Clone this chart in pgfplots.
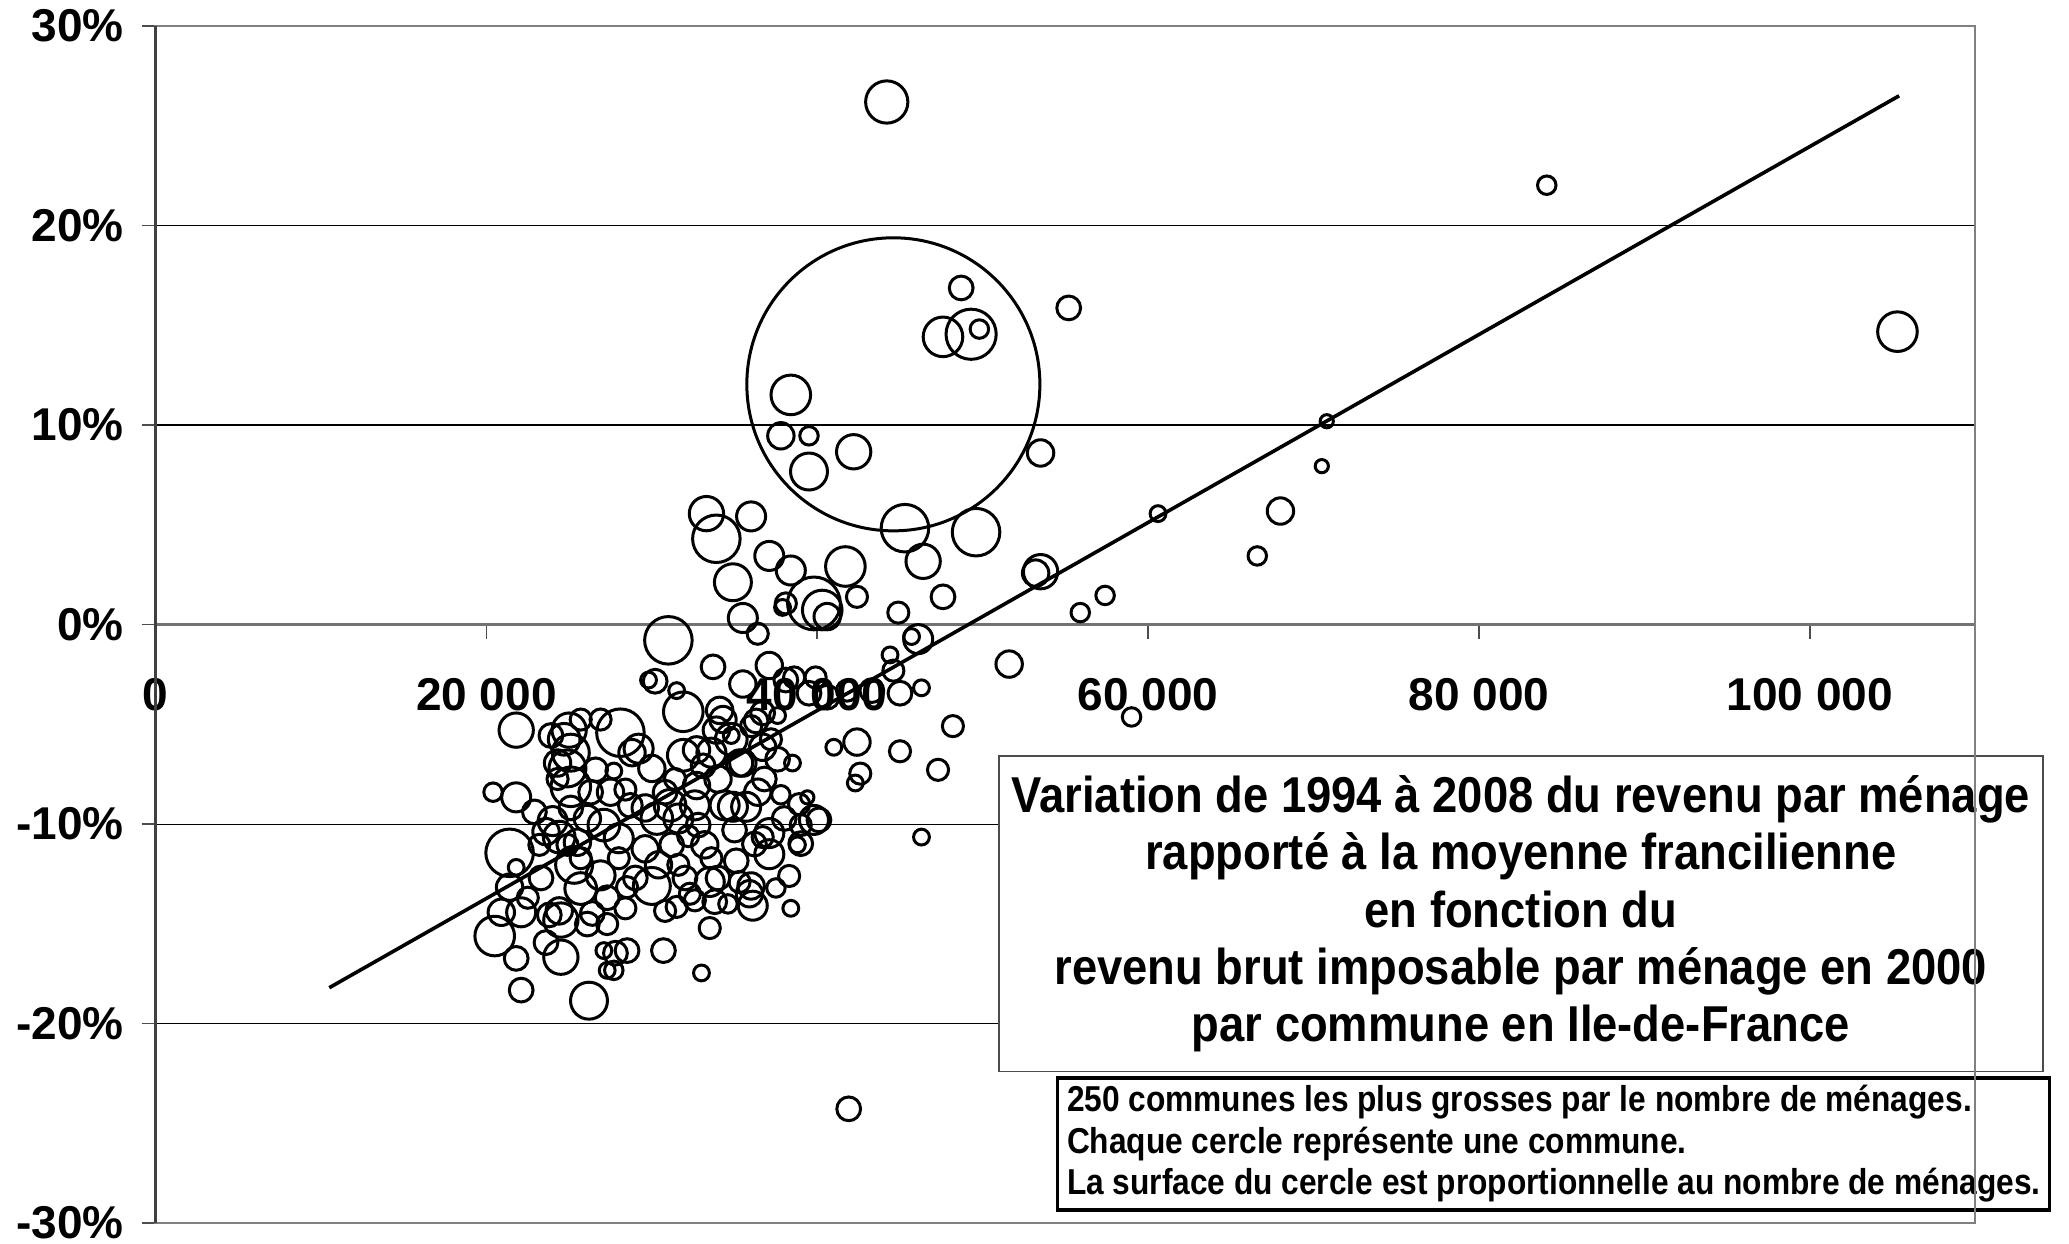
\documentclass[border=0pt]{standalone}
\usepackage{pgfplots}
\pgfplotsset{compat=1.18}
\usepackage{pgfplotstable}
\usepackage{fontspec}
\setmainfont{Liberation Sans}
\setsansfont{Liberation Sans}
\newfontfamily\narrowA[FakeStretch=0.9]{Liberation Sans}
\newfontfamily\narrowB[FakeStretch=0.88]{Liberation Sans}

\pgfplotstableread{
x y r
44200 26.19 16
84100 22.02 7
105300 14.68 15
44600 12.04 111
48700 16.87 9
47600 14.42 15
49300 14.55 19
49800 14.81 7
55200 15.87 9
38400 11.51 15
37800 9.46 10
39500 9.46 7
39500 7.67 14
42200 8.66 13
53500 8.60 10
70800 10.19 5
70500 7.94 5
68000 5.69 10
60600 5.56 6
66600 3.44 7
57400 1.46 7
55900 0.60 7
53500 2.65 13
53200 2.58 10
49600 4.63 18
45300 4.83 18
46400 3.17 13
47600 1.39 9
51600 -1.98 10
59000 -4.63 7
41900 -24.27 9
33300 5.56 13
33900 4.30 18
36000 5.42 11
37100 3.44 11
38400 2.71 11
34900 2.12 14
41700 2.91 15
39800 1.06 20
40300 0.73 15
40600 0.40 10
38100 1.06 8
42400 1.39 8
35500 0.33 11
36400 -0.46 8
44900 0.60 8
45700 -0.60 6
46100 -0.73 11
44400 -1.52 6
44600 -2.31 8
45000 -3.44 9
46300 -3.17 6
43300 -3.31 9
41800 -3.31 8
45000 -6.35 8
47300 -7.28 8
48200 -5.09 8
46300 -10.65 6
31000 -0.79 18
30200 -2.84 9
29800 -2.78 6
31500 -3.31 6
33700 -2.12 9
35500 -2.98 10
37100 -2.05 10
38100 -2.78 9
38600 -2.65 8
39900 -2.65 8
39500 -3.44 9
40600 -3.64 9
37900 0.86 6
37600 -4.56 6
36300 -4.83 9
34100 -4.30 10
31900 -4.37 15
34800 -5.56 6
33900 -5.29 10
32700 -6.28 10
35500 -6.94 10
36700 -6.15 10
38500 -6.94 6
41000 -6.15 6
42400 -5.89 10
39400 -8.66 5
42600 -7.47 8
42300 -7.94 6
39800 -9.79 11
39000 -10.05 8
40100 -9.79 9
39000 -10.98 9
37100 -11.51 11
36700 -10.65 8
36100 -14.09 11
36000 -13.10 10
35300 -12.90 8
35100 -11.84 9
33500 -12.90 11
33800 -13.89 9
32600 -13.82 8
31500 -14.15 8
33500 -15.21 8
33000 -17.46 6
38400 -14.22 6
30700 -16.34 9
30000 -13.10 14
28500 -16.34 9
27800 -16.47 9
27100 -16.34 6
27300 -17.33 6
27700 -17.33 7
26200 -18.85 14
26400 -14.48 9
25700 -13.23 12
24500 -16.67 13
23600 -15.94 9
23800 -14.55 9
24400 -14.35 10
24500 -14.81 13
22100 -18.32 9
21800 -16.73 9
20500 -15.61 15
20900 -14.42 10
22100 -14.42 11
21400 -13.16 10
21800 -12.17 6
21400 -11.44 18
20400 -8.40 7
21800 -8.66 11
21800 -5.29 13
23900 -5.56 9
25000 -5.29 13
24700 -5.75 12
25100 -6.42 14
24900 -7.21 14
25100 -8.13 15
25700 -4.76 8
24300 -7.74 8
24000 -9.85 11
23600 -10.38 10
24400 -10.65 12
24900 -11.04 8
25500 -10.91 10
25300 -12.04 14
25700 -11.71 8
28100 -5.42 18
26600 -7.28 9
27700 -7.34 6
26900 -4.76 8
27500 -8.40 10
27100 -10.05 12
28000 -10.71 11
26900 -12.57 11
28000 -11.71 8
27300 -13.69 9
28500 -13.16 8
28400 -14.22 8
28700 -9.06 9
28400 -8.27 8
28800 -6.42 10
29200 -6.22 11
30000 -7.21 10
29600 -9.19 10
30300 -9.72 12
29600 -11.24 10
30800 -8.40 9
31100 -9.06 12
31400 -7.74 8
31600 -9.72 11
31200 -11.04 9
30400 -12.04 10
31900 -6.55 12
31600 -12.04 8
32000 -12.70 9
32700 -8.07 10
32600 -9.06 11
32800 -10.05 9
33200 -11.04 10
33100 -7.08 9
33600 -6.42 11
34000 -7.74 10
34300 -4.76 10
34800 -5.75 12
33600 -11.71 8
34000 -12.70 9
32300 -13.49 8
34400 -9.06 11
34900 -9.13 11
35300 -6.94 10
35700 -9.13 11
36400 -8.40 10
36800 -7.74 9
37200 -5.75 8
37600 -6.75 9
36700 -4.43 9
36000 -5.09 8
37800 -8.53 7
38000 -9.72 9
37100 -10.45 11
35900 -13.49 10
30800 -14.35 8
38800 -11.04 6
22900 -9.39 9
23200 -11.04 8
22500 -13.69 8
23300 -12.70 9
26100 -15.01 9
25100 -9.19 9
26100 -9.72 10
26300 -8.40 9
27300 -15.01 8
24300 -6.94 10
36200 -11.00 9
38300 -12.60 8
37500 -13.20 7
35000 -10.30 9
32200 -10.60 8
29000 -12.70 9
34600 -14.00 7
38900 -9.00 8
}\communes

\pgfplotstableread{
x y
10500 -18.2
105400 26.5
}\tendance

\begin{document}
\begin{tikzpicture}
\begin{axis}[
  scale only axis,
  width=454.9pt, height=299.3pt,
  xmin=0, xmax=110000, ymin=-30, ymax=30,
  axis x line=middle, axis y line=left,
  axis line style={-},
  x axis line style={draw=black!55, line width=0.6pt},
  y axis line style={draw=black!75, line width=0.6pt},
  hide obscured x ticks=false, hide obscured y ticks=false,
  xtick={0,20000,40000,60000,80000,100000},
  xticklabels={0,20 000,40 000,60 000,80 000,100 000},
  ytick={-30,-20,-10,0,10,20,30},
  yticklabels={-30\%,-20\%,-10\%,0\%,10\%,20\%,30\%},
  tick align=outside,
  major tick length=3.5pt,
  tick style={black!70, line width=0.4pt},
  ymajorgrids,
  major grid style={black, line width=0.3pt},
  tick label style={font=\fontsize{11.5}{13}\selectfont\bfseries},
  xticklabel style={yshift=-6.5pt},
  yticklabel style={xshift=-0.9pt},
  clip=false,
]
\addplot[black, line width=0.9pt] table[x=x,y=y] {\tendance};
\addplot[scatter, only marks, mark=o,
  scatter/use mapped color={draw=black, fill=none},
  mark options={line width=0.75pt},
  visualization depends on={0.33*\thisrow{r} \as \rr},
  scatter/@pre marker code/.append style={/tikz/mark size=\rr}]
  table[x=x,y=y] {\communes};
\coordinate (SW) at (rel axis cs:0,0);
\coordinate (NE) at (rel axis cs:1,1);
\node[draw=black!70, line width=0.4pt, fill=white, minimum width=261pt, minimum height=78.9pt, inner sep=0pt, align=center,
  font=\narrowA\fontsize{12.6}{14.35}\selectfont\bfseries] at (rel axis cs:0.7503,0.2584)
  {Variation de 1994 à 2008 du revenu par ménage\\rapporté à la moyenne francilienne\\en fonction du\\revenu brut imposable par ménage en 2000\\par commune en Ile-de-France};
\node[draw=black, line width=0.8pt, fill=white, minimum width=247.7pt, minimum height=33pt, inner xsep=2.3pt, inner ysep=0pt,
  align=left,
  font=\narrowB\fontsize{9}{10.4}\selectfont\bfseries] at (rel axis cs:0.7684,0.0662)
  {250 communes les plus grosses par le nombre de ménages.\\Chaque cercle représente une commune.\\La surface du cercle est proportionnelle au nombre de ménages.};
\end{axis}
\draw[black!50, line width=0.6pt] (SW) rectangle (NE);
\draw[black!75, line width=0.6pt] (SW) -- (SW|-NE);
\pgfresetboundingbox
\path[use as bounding box] ([shift={(-38.9pt,-5.2pt)}]SW) rectangle ([shift={(23.45pt,6.5pt)}]NE);
\end{tikzpicture}
\end{document}
